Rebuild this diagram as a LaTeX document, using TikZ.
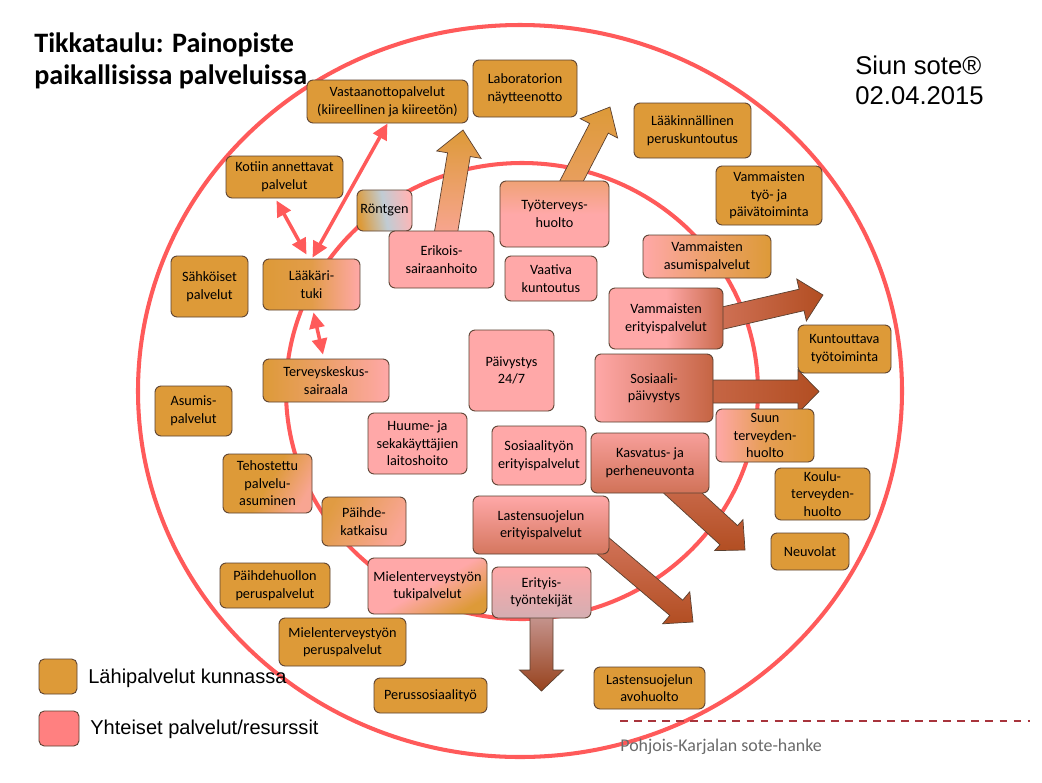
\documentclass[tikz,border=0pt]{standalone}
\usepackage{fontspec}
\setmainfont{Carlito}
\newfontfamily\arial{Liberation Sans}
\usepackage{tikz}
\usetikzlibrary{arrows.meta,calc}

\definecolor{oranssi}{HTML}{DD9A38}
\definecolor{pinkki}{HTML}{FFA8A8}
\definecolor{ruoste}{HTML}{B24E22}
\definecolor{rengas}{HTML}{FF5A5A}
\definecolor{reuna}{HTML}{5A4030}
\definecolor{harmaa}{HTML}{D4AEB2}
\definecolor{sininen}{HTML}{C0CCD4}
\definecolor{selite}{HTML}{FF8080}
\definecolor{viiva}{HTML}{A8343C}

\pgfdeclarelayer{tausta}
\pgfsetlayers{tausta,main}

\newcommand\laatikkofont{\fontsize{8.1}{10}\selectfont}

% block arrow: start, tip, half shaft, half head, head length, shading
\newcommand\nuoli[6]{%
  \path ($(#2)!#5*0.02cm!(#1)$) coordinate (nk);
  \shade[draw=reuna, line width=0.4pt, #6]
    ($(#1)!#3*0.02cm!90:(#2)$) -- ($(nk)!#3*0.02cm!90:(#2)$) -- ($(nk)!#4*0.02cm!90:(#2)$) -- (#2)
    -- ($(nk)!#4*0.02cm!-90:(#2)$) -- ($(nk)!#3*0.02cm!-90:(#2)$) -- ($(#1)!#3*0.02cm!-90:(#2)$) -- cycle;}

\begin{document}
\begin{tikzpicture}[x=0.02cm, y=-0.02cm,
                    koko/.style 2 args={minimum width=#1*0.02cm, minimum height=#2*0.02cm}]
  \tikzstyle{laatikko}=[draw=reuna, line width=0.5pt, rounded corners=3.5pt, align=center, inner sep=0pt, font=\laatikkofont]
  \tikzstyle{lahipalvelu}=[laatikko, fill=oranssi]
  \tikzstyle{yhteinen}=[laatikko, fill=pinkki]
  \tikzstyle{kaksinuoli}=[draw=rengas, line width=2pt, {Triangle[length=9pt,width=8.5pt]}-{Triangle[length=9pt,width=8.5pt]}]
  \tikzstyle{selitys}=[draw=reuna, line width=0.5pt, rounded corners=3pt]

  \useasboundingbox (0,0) rectangle (1042,782);

  % otsikot
  \node[anchor=west, align=left, inner sep=0pt, font=\bfseries\fontsize{16}{18}\selectfont] (otsikko) at (34,61) {Tikkataulu: Painopiste\\paikallisissa palveluissa};
  \node[anchor=west, align=left, inner sep=0pt, font=\arial\fontsize{14.6}{17}\selectfont] (pvm) at (855,80) {Siun sote®\\02.04.2015};

  % laatikot
  \node[lahipalvelu, koko={161}{43}] (vas) at (387.5,101.5) {Vastaanottopalvelut\\(kiireellinen ja kiireetön)};
  \node[lahipalvelu, koko={104}{57}] (lab) at (525,88.5) {Laboratorion\\näytteenotto};
  \node[lahipalvelu, koko={117}{55}] (laakp) at (692.5,130.5) {Lääkinnällinen\\peruskuntoutus};
  \node[lahipalvelu, koko={106}{59}] (vtyo) at (769,195.5) {Vammaisten\\työ- ja\\päivätoiminta};
  \node[lahipalvelu, koko={117}{42}] (kot) at (284.5,177) {Kotiin annettavat\\palvelut};
  \node[laatikko, koko={55}{41}, left color=oranssi, right color=pinkki!85!white, middle color=sininen, shading angle=100] (ront) at (384.5,210.5) {Röntgen};
  \node[yhteinen, koko={105}{57}] (eri) at (441.5,259.5) {Erikois-\\sairaanhoito};
  \node[laatikko, koko={109}{66}, top color=oranssi!45!pinkki, bottom color=pinkki, middle color=pinkki] (tyo) at (554.5,214) {Työterveys-\\huolto};
  \node[yhteinen, koko={92}{45}] (vaat) at (551,278.5) {Vaativa\\kuntoutus};
  \node[laatikko, koko={128}{43}, left color=pinkki, right color=oranssi, middle color=oranssi!55!pinkki] (vasu) at (707,256.5) {Vammaisten\\asumispalvelut};
  \node[lahipalvelu, koko={77}{61}] (sah) at (209.5,286.5) {Sähköiset\\palvelut};
  \node[laatikko, koko={97}{51}, left color=oranssi, right color=pinkki, middle color=oranssi!85!pinkki] (laak) at (311.5,284.5) {Lääkäri-\\tuki};
  \node[laatikko, koko={126}{43}, left color=oranssi, right color=pinkki, middle color=oranssi!55!pinkki] (ter) at (326,380.5) {Terveyskeskus-\\sairaala};
  \node[lahipalvelu, koko={77}{50}] (asu) at (193.5,411) {Asumis-\\palvelut};
  \node[laatikko, koko={89}{59}, left color=oranssi, right color=pinkki!80!oranssi, middle color=oranssi, shading angle=60] (teh) at (267.5,483.5) {Tehostettu\\palvelu-\\asuminen};
  \node[laatikko, koko={84}{49}, left color=oranssi!90!pinkki, right color=pinkki!85!oranssi, shading angle=60] (paik) at (364,521.5) {Päihde-\\katkaisu};
  \node[lahipalvelu, koko={110}{45}] (paip) at (275,585.5) {Päihdehuollon\\peruspalvelut};
  \node[laatikko, koko={119}{56}, top color=pinkki, bottom color=oranssi, middle color=pinkki, shading angle=30] (mtuki) at (427.5,586) {Mielenterveystyön\\tukipalvelut};
  \node[lahipalvelu, koko={127}{48}] (mperus) at (342.5,642) {Mielenterveystyön\\peruspalvelut};
  \node[lahipalvelu, koko={113}{35}] (pso) at (430.5,695.5) {Perussosiaalityö};
  \node[yhteinen, koko={99}{61}] (huu) at (417.5,443.5) {Huume- ja\\sekakäyttäjien\\laitoshoito};
  \node[yhteinen, koko={85}{81}] (paiv) at (511.5,370.5) {Päivystys\\24/7};
  \node[yhteinen, koko={94}{59}] (sose) at (539,455.5) {Sosiaalityön\\erityispalvelut};
  \node[laatikko, koko={114}{61}, left color=pinkki, right color=ruoste!70!pinkki, middle color=pinkki] (vamer) at (666,318.5) {Vammaisten\\erityispalvelut};
  \node[laatikko, koko={118}{68}, left color=pinkki, right color=ruoste!75!pinkki, middle color=ruoste!35!pinkki] (sospv) at (654,388) {Sosiaali-\\päivystys};
  \node[laatikko, koko={98}{53}, left color=pinkki, right color=oranssi, middle color=oranssi!75!pinkki] (suu) at (765,435.5) {Suun\\terveyden-\\huolto};
  \node[lahipalvelu, koko={93}{48}] (kun) at (844.5,349) {Kuntouttava\\työtoiminta};
  \node[laatikko, koko={118}{60}, top color=pinkki!90!ruoste, bottom color=ruoste!60!pinkki] (kas) at (650,463) {Kasvatus- ja\\perheneuvonta};
  \node[lahipalvelu, koko={95}{52}] (kou) at (822.5,494) {Koulu-\\terveyden-\\huolto};
  \node[lahipalvelu, koko={78}{37}] (neu) at (810,551.5) {Neuvolat};
  \node[laatikko, koko={136}{58}, top color=pinkki, bottom color=ruoste!55!pinkki] (lsep) at (541,525) {Lastensuojelun\\erityispalvelut};
  \node[laatikko, koko={99}{51}, top color=pinkki, bottom color=harmaa] (erit) at (541.5,592.5) {Erityis-\\työntekijät};
  \node[lahipalvelu, koko={111}{42}] (lsa) at (649.5,688) {Lastensuojelun\\avohuolto};

  % kaksisuuntaiset nuolet
  \draw[kaksinuoli] ($(kot.south)+(-8,2)$) -- ($(laak.north)+(-5,-4)$);
  \draw[kaksinuoli] (vas.south) -- ($(laak.north)+(1,-1)$);
  \draw[kaksinuoli] ($(laak.south)+(2,2)$) -- ($(ter.north)+(-3,-4)$);

  % selitteet
  \node[selitys, fill=oranssi, koko={38}{35}] (sel1) at (58,676.5) {};
  \node[selitys, fill=selite, koko={40}{35}] (sel2) at (59,728.5) {};
  \node[anchor=west, inner sep=0pt, font=\arial\fontsize{11.4}{13}\selectfont] (sel1teksti) at (88,678) {Lähipalvelut kunnassa};
  \node[anchor=west, inner sep=0pt, font=\arial\fontsize{11.4}{13}\selectfont] (sel2teksti) at (90,729.5) {Yhteiset palvelut/resurssit};

  % alatunniste
  \coordinate (viiva1) at (620,721);
  \coordinate (viiva2) at (1030,721);
  \draw[viiva, line width=1.6pt, dash pattern=on 4.5pt off 3.5pt] (viiva1) -- (viiva2);
  \node[anchor=west, inner sep=0pt, text=black!58, font=\fontsize{10.2}{12}\selectfont] (hanke) at (620,747) {Pohjois-Karjalan sote-hanke};

  % nuolten kärjet
  \coordinate (erikarki) at (463,130);
  \coordinate (tyokarki) at (610,107);
  \coordinate (vamerkarki) at (823,295);
  \coordinate (vameralku) at ($(vamer.east)+(-20,4)$);
  \coordinate (sospvkarki) at (819,391.5);
  \coordinate (sospvalku) at (sospv.center |- sospvkarki);
  \coordinate (kaskarki) at (745,550);
  \coordinate (lsepkarki) at (693,622);
  \coordinate (lsepalku) at ($(lsep.east)+(-31,0)$);
  \coordinate (eritkarki) at (541.5,691);

  \begin{pgfonlayer}{tausta}
    \fill[white] (0,0) rectangle (1042,782);
    % tikkataulun renkaat
    \draw[rengas, line width=2.3pt] (520,391) ellipse [x radius=382, y radius=366];
    \draw[rengas, line width=2.3pt] (522,391) ellipse [x radius=236, y radius=228];
    % nuolet
    \nuoli{eri.center}{erikarki}{11.5}{22.5}{25}{top color=oranssi, bottom color=pinkki}
    \nuoli{tyo.center}{tyokarki}{10.5}{21}{24}{top color=oranssi, bottom color=oranssi!50!pinkki}
    \nuoli{vameralku}{vamerkarki}{11}{21.5}{22}{left color=ruoste!55!pinkki, right color=ruoste}
    \nuoli{sospvalku}{sospvkarki}{11.5}{21.5}{21}{left color=ruoste!60!pinkki, right color=ruoste}
    \nuoli{kas.center}{kaskarki}{13}{21}{22}{top color=ruoste!55!pinkki, bottom color=ruoste}
    \nuoli{lsepalku}{lsepkarki}{10}{21}{22}{top color=ruoste!50!pinkki, bottom color=ruoste}
    \nuoli{erit.center}{eritkarki}{11.5}{22}{21}{top color=harmaa, bottom color=ruoste!85!black}
  \end{pgfonlayer}
\end{tikzpicture}
\end{document}
